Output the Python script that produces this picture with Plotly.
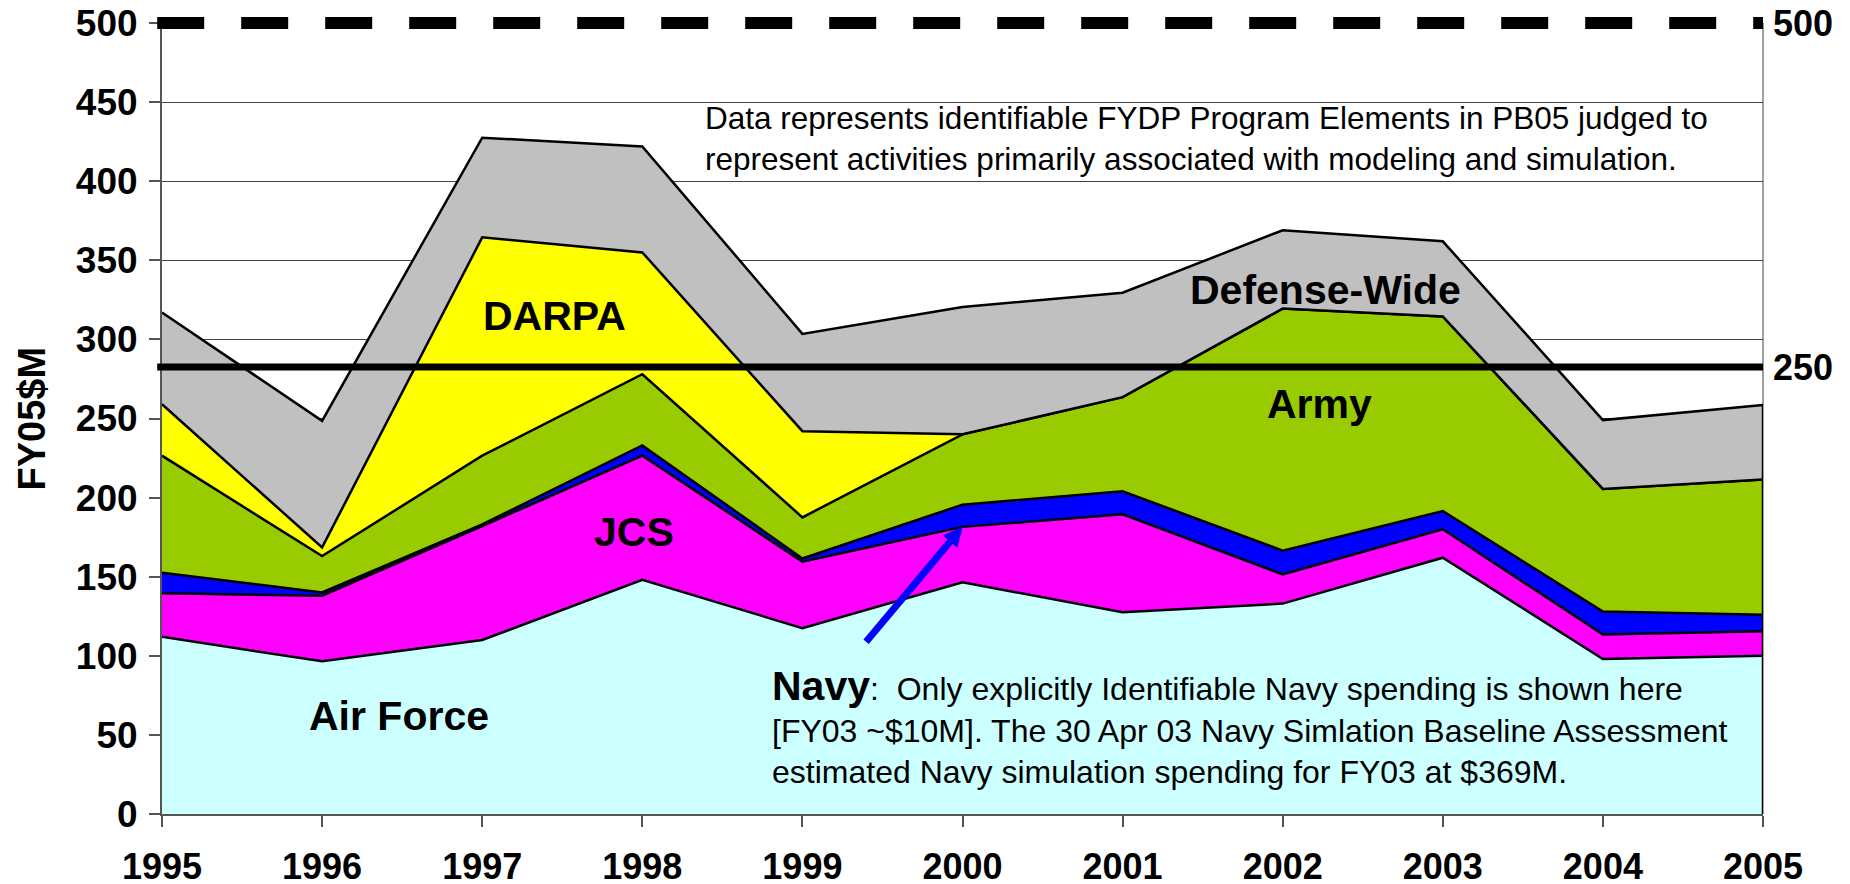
import plotly.graph_objects as go

years = [1995, 1996, 1997, 1998, 1999, 2000, 2001, 2002, 2003, 2004, 2005]
air_force = [112, 96.5, 110, 148, 117.5, 146.5, 127.5, 133, 162, 98, 100]
jcs = [27.5, 41.5, 72, 78.5, 42, 35, 62, 18.5, 18, 15.5, 15.5]
navy = [13, 2, 1, 6.5, 2, 14, 14.5, 15, 11.5, 14.5, 10.5]
army = [74, 23, 43.5, 45, 26, 44.5, 59.5, 153, 123, 77.5, 85.5]
darpa = [32.5, 5.5, 138, 77, 54.5, 0, 0, 0, 0, 0, 0]
defense_wide = [58, 80, 63, 67, 61.5, 80.5, 66, 49.5, 47.5, 43.5, 47]

series_names = ["Air Force", "JCS", "Navy", "Army", "DARPA", "Defense-Wide"]
series_values = [air_force, jcs, navy, army, darpa, defense_wide]
series_colors = ["#CCFFFF", "#FF00FF", "#0000FF", "#99CC00", "#FFFF00", "#C0C0C0"]

y_ticks = [0, 50, 100, 150, 200, 250, 300, 350, 400, 450, 500]
right_labels = ["500", "250"]
right_label_pos = [500, 282.5]

FONT = "Liberation Sans, Arial, sans-serif"

fig = go.Figure()
for name, vals, col in zip(series_names, series_values, series_colors):
    fig.add_trace(go.Scatter(
        x=years, y=vals, name=name, mode="lines", stackgroup="one",
        fillcolor=col, line=dict(color="black", width=2.5), showlegend=False,
        hoverinfo="x+y+name",
    ))

totals = [sum(v) for v in zip(*series_values)]
jcs_top = [a + b for a, b in zip(air_force, jcs)]

shapes = [
    # right edge of the stacked areas
    dict(type="line", xref="x", yref="y", x0=years[-1], x1=years[-1], y0=0, y1=totals[-1],
         line=dict(color="black", width=2.5), layer="above"),
    # right plot border
    dict(type="line", xref="paper", yref="paper", x0=1, x1=1, y0=0, y1=1,
         line=dict(color="#808080", width=1.5), layer="below"),
    # solid reference line
    dict(type="line", xref="paper", yref="y", x0=-0.003, x1=1, y0=right_label_pos[1], y1=right_label_pos[1],
         line=dict(color="black", width=7), layer="above"),
    # dashed reference line at top (axis top = 500)
    dict(type="line", xref="paper", yref="paper", x0=-0.003, x1=1, y0=1, y1=1,
         line=dict(color="black", width=12, dash="47px,37px"), layer="above"),
]

label_font = dict(family=FONT, size=41, color="black", weight="bold")
annotations = [
    dict(x=1997.45, y=315, text="DARPA", showarrow=False, font=label_font),
    dict(x=1997.95, y=178, text="JCS", showarrow=False, font=label_font),
    dict(x=2002.27, y=331.5, text="Defense-Wide", showarrow=False, font=label_font),
    dict(x=2002.23, y=259, text="Army", showarrow=False, font=label_font),
    dict(x=1996.48, y=62, text="Air Force", showarrow=False, font=label_font),
    dict(xref="paper", yref="paper", x=(703 - 162) / 1601, y=0.905, xanchor="left", yanchor="top",
         align="left", showarrow=False,
         text="Data represents identifiable FYDP Program Elements in PB05 judged to<br>"
              "represent activities primarily associated with modeling and simulation.",
         font=dict(family=FONT, size=31.5, color="black")),
    dict(xref="paper", yref="paper", x=(770 - 162) / 1601, y=0.194, xanchor="left", yanchor="top",
         align="left", showarrow=False,
         text="<span style='font-size:41px'><b>Navy</b></span>:&nbsp; Only explicitly Identifiable Navy spending is shown here<br>"
              "[FY03 ~$10M]. The 30 Apr 03 Navy Simlation Baseline Assessment<br>"
              "estimated Navy simulation spending for FY03 at $369M.",
         font=dict(family=FONT, size=32, color="black")),
    dict(x=years[5], y=jcs_top[5], ax=1999.39, ay=108, axref="x", ayref="y", text="",
         showarrow=True, arrowhead=2, arrowsize=0.55, arrowwidth=7, arrowcolor="#0000FF"),
    dict(xref="paper", yref="paper", x=0, y=0.5, xshift=-131, xanchor="center", yanchor="middle",
         text="<b>FY05$M</b>", textangle=-90,
         showarrow=False, font=dict(family=FONT, size=38, color="black")),
]
for lab, pos in zip(right_labels, right_label_pos):
    annotations.append(dict(xref="paper", yref="y", x=1, y=pos, xanchor="left", xshift=8,
                            text=lab, showarrow=False,
                            font=dict(family=FONT, size=36, color="black", weight="bold")))

# the page body adds an 8px offset; margins compensate for it
fig.update_layout(
    width=1842, height=876,
    margin=dict(l=154, r=87, t=15, b=70),
    paper_bgcolor="white", plot_bgcolor="white",
    shapes=shapes, annotations=annotations,
    xaxis=dict(range=[1995, 2005], tickvals=years, ticktext=[str(y) for y in years],
               showgrid=False, zeroline=False, showline=True, linecolor="#555555", linewidth=2,
               ticks="outside", ticklen=11, tickcolor="#555555", tickwidth=1.5,
               tickfont=dict(family=FONT, size=36, color="black", weight="bold"),
               ticklabelstandoff=9, automargin=False, ticklabeloverflow="allow"),
    yaxis=dict(range=[0, 500], tickvals=y_ticks, showgrid=True, gridcolor="#444444", gridwidth=1,
               zeroline=False, showline=True, linecolor="#555555", linewidth=2,
               ticks="outside", ticklen=11, tickcolor="#555555", tickwidth=1.5,
               tickfont=dict(family=FONT, size=37, color="black", weight="bold"),
               ticklabelstandoff=4, automargin=False, ticklabeloverflow="allow"),
)

fig.write_html("out.html")
